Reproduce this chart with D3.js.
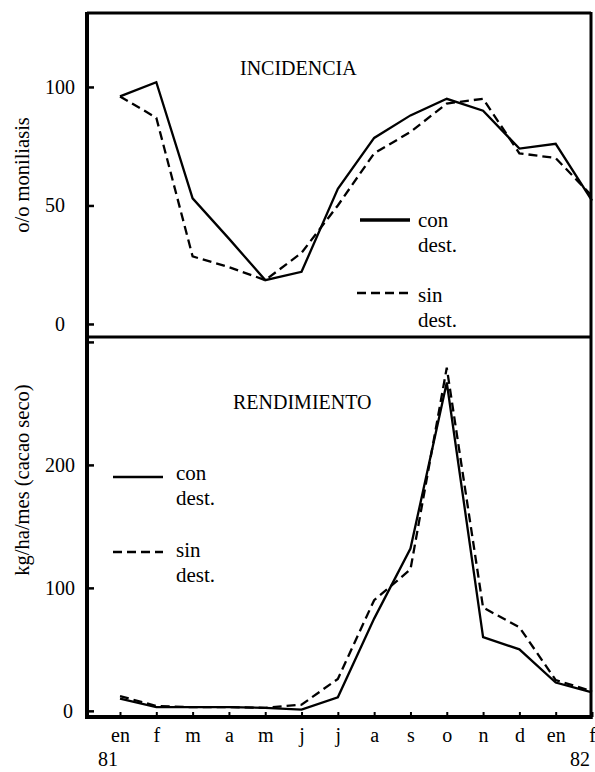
<!DOCTYPE html>
<html>
<head>
<meta charset="utf-8">
<script src="https://cdn.jsdelivr.net/npm/d3@7"></script>
<style>
  body { margin: 0; background: white; }
  svg { display: block; }
  text { font-family: "Liberation Serif", "DejaVu Serif", serif; fill: black; }
</style>
</head>
<body>
<svg id="chart" width="595" height="772"></svg>
<script>
// months: en 81 .. f 82
const months = ['en', 'f', 'm', 'a', 'm', 'j', 'j', 'a', 's', 'o', 'n', 'd', 'en', 'f']
const years = [{ i: 0, l: '81' }, { i: 13, l: '82' }]

// INCIDENCIA (o/o moniliasis)
const incTicks = [0, 50, 100]
const incConDest = [96, 102, 53, 36, 18.5, 22, 57, 78.5, 88, 95, 90, 74, 76, 52]
const incSinDest = [96, 87, 28.5, 24, 18.5, 30, 50, 72, 81, 93, 95, 72, 70, 54]

// RENDIMIENTO (kg/ha/mes cacao seco)
const rendTicks = [0, 100, 200, 300]
const rendLabels = [0, 100, 200]
const rendConDest = [10, 3, 3, 3, 2.5, 1, 11, 75, 132, 267, 60, 50, 23, 15]
const rendSinDest = [12, 4, 3, 3, 2.5, 5, 26, 90, 115, 279, 84, 68, 25, 16]

const svg = d3.select('#chart')

const box = { left: 87, right: 591, top: 13, mid: 337, bottom: 717 }

const x = d3.scaleLinear().domain([0, 13]).range([120, 592])
const yInc = d3.scaleLinear().domain([-5.5, 131.2]).range([box.mid, box.top])
const yRend = d3.scaleLinear().domain([-5, 304]).range([box.bottom, box.mid])

const dash = '9,5'

// lines
function drawSeries (data, y, dashed) {
  const line = d3.line()
    .x((d, i) => x(i))
    .y(d => y(d))
  svg.append('path')
    .datum(data)
    .attr('fill', 'none')
    .attr('stroke', 'black')
    .attr('stroke-width', 2.3)
    .attr('stroke-dasharray', dashed ? dash : null)
    .attr('stroke-linejoin', 'miter')
    .attr('d', line)
}

drawSeries(incConDest, yInc, false)
drawSeries(incSinDest, yInc, true)
drawSeries(rendConDest, yRend, false)
drawSeries(rendSinDest, yRend, true)

// y axes (inner ticks)
function yAxis (y, ticks, labels, zeroX) {
  svg.append('g')
    .attr('transform', `translate(${box.left},0)`)
    .call(d3.axisLeft(y)
      .tickValues(ticks)
      .tickSize(-7)
      .tickFormat(d => labels.includes(d) ? d : ''))
    .call(g => g.select('.domain').remove())
    .call(g => g.selectAll('line').attr('stroke-width', 2.5))
    .call(g => g.selectAll('text')
      .attr('font-size', 20)
      .attr('font-family', null)
      .attr('text-anchor', 'start')
      .attr('x', d => (d === 0 ? zeroX : 45) - box.left))
}

yAxis(yInc, incTicks, incTicks, 55)
yAxis(yRend, rendTicks, rendLabels, 63)

// x axis
svg.append('g')
  .attr('transform', `translate(0,${box.bottom})`)
  .call(d3.axisBottom(x)
    .tickValues(d3.range(months.length))
    .tickSize(-5)
    .tickPadding(11)
    .tickFormat(i => months[i]))
  .call(g => g.select('.domain').remove())
  .call(g => g.selectAll('line').attr('stroke-width', 2))
  .call(g => g.selectAll('text').attr('font-size', 20).attr('font-family', null))

svg.selectAll('.year')
  .data(years)
  .join('text')
  .attr('class', 'year')
  .attr('x', d => x(d.i) - 12)
  .attr('y', 766)
  .attr('text-anchor', 'middle')
  .attr('font-size', 20)
  .text(d => d.l)

// frame
const frame = [
  { x1: box.left, y1: box.top - 1, x2: box.left, y2: box.bottom + 2, w: 4 },
  { x1: box.right, y1: box.top - 1, x2: box.right, y2: box.bottom + 2, w: 3 },
  { x1: box.left, y1: box.top, x2: box.right, y2: box.top, w: 3 },
  { x1: box.left, y1: box.mid, x2: box.right, y2: box.mid, w: 3 },
  { x1: box.left - 2, y1: box.bottom, x2: box.right + 1.5, y2: box.bottom, w: 4 }
]
svg.selectAll('.frame')
  .data(frame)
  .join('line')
  .attr('class', 'frame')
  .attr('x1', d => d.x1)
  .attr('y1', d => d.y1)
  .attr('x2', d => d.x2)
  .attr('y2', d => d.y2)
  .attr('stroke', 'black')
  .attr('stroke-width', d => d.w)

// titles
svg.append('text')
  .attr('x', 240).attr('y', 75)
  .attr('font-size', 20)
  .text('INCIDENCIA')

svg.append('text')
  .attr('x', 233).attr('y', 409)
  .attr('font-size', 20)
  .text('RENDIMIENTO')

// y labels
svg.append('text')
  .attr('transform', 'translate(22,175) rotate(-90)')
  .attr('text-anchor', 'middle')
  .attr('dominant-baseline', 'central')
  .attr('font-size', 20.5)
  .text('o/o moniliasis')

svg.append('text')
  .attr('transform', 'translate(22,480) rotate(-90)')
  .attr('text-anchor', 'middle')
  .attr('dominant-baseline', 'central')
  .attr('font-size', 20.5)
  .text('kg/ha/mes (cacao seco)')

// legends
function legend (lx1, lx2, ly, tx, ty, label, dashed, w) {
  svg.append('line')
    .attr('x1', lx1).attr('x2', lx2)
    .attr('y1', ly).attr('y2', ly)
    .attr('stroke', 'black')
    .attr('stroke-width', w)
    .attr('stroke-dasharray', dashed ? dash : null)
  svg.append('text')
    .attr('x', tx).attr('y', ty)
    .attr('font-size', 21)
    .text(label)
  svg.append('text')
    .attr('x', tx).attr('y', ty + 25)
    .attr('font-size', 21)
    .text('dest.')
}

legend(360, 410, 220, 418, 227, 'con', false, 3.5)
legend(357, 413, 293, 418, 302, 'sin', true, 2.5)
legend(113, 163, 477, 176, 480, 'con', false, 2.5)
legend(113, 163, 552, 176, 557, 'sin', true, 2.5)
</script>
</body>
</html>
